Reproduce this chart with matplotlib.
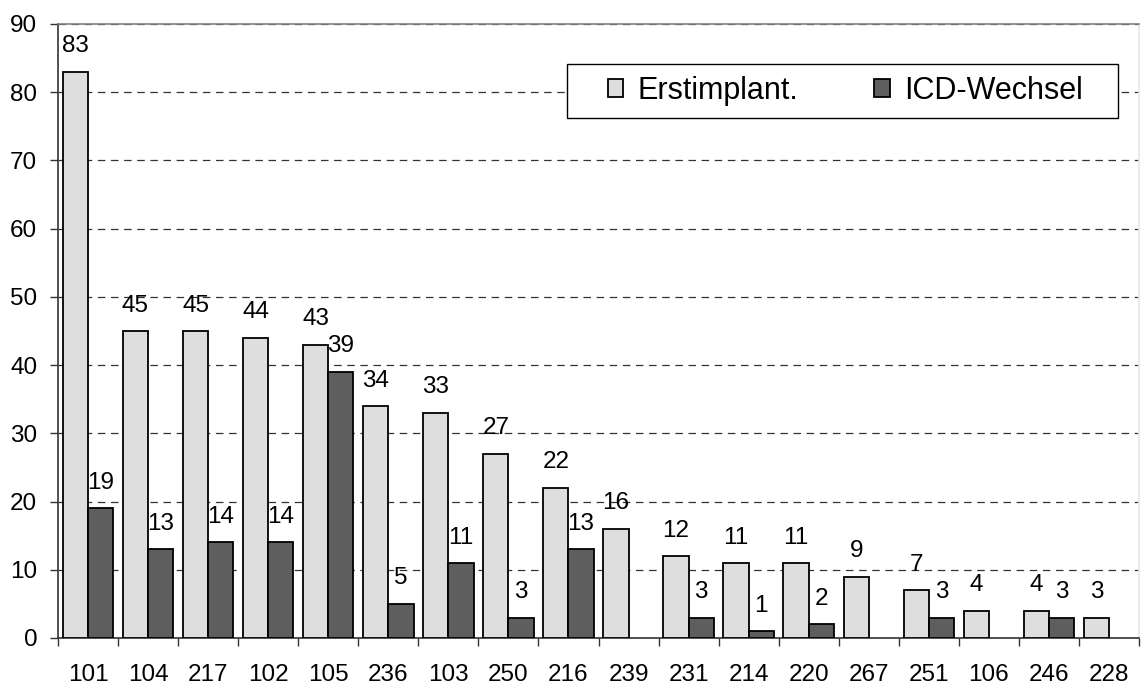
import matplotlib.pyplot as plt
from matplotlib.patches import Rectangle
import numpy as np

plt.rcParams['font.family'] = ['Liberation Sans', 'DejaVu Sans']

categories = ['101', '104', '217', '102', '105', '236', '103', '250', '216',
              '239', '231', '214', '220', '267', '251', '106', '246', '228']
erstimplant = [83, 45, 45, 44, 43, 34, 33, 27, 22, 16, 12, 11, 11, 9, 7, 4, 4, 3]
wechsel = [19, 13, 14, 14, 39, 5, 11, 3, 13, None, 3, 1, 2, None, 3, None, 3, None]

wechsel_arr = np.array([np.nan if v is None else v for v in wechsel], dtype=float)
x = np.arange(len(categories))
w = 0.42

fig = plt.figure(figsize=(11.41, 6.89), dpi=100)
ax = fig.add_axes([58 / 1141, 1 - 638 / 689, 1081 / 1141, 614 / 689])

b1 = ax.bar(x - w, erstimplant, w, align='edge', color='#dedede',
            edgecolor='black', linewidth=1.3, label='Erstimplant.', zorder=3)
b2 = ax.bar(x, wechsel_arr, w, align='edge', color='#5e5e5e',
            edgecolor='black', linewidth=1.3, label='ICD-Wechsel', zorder=3)

for xi, v in zip(x, erstimplant):
    ax.annotate(str(v), (xi - w / 2, v), xytext=(0, 14), textcoords='offset points',
                ha='center', va='baseline', fontsize=17.5)
for xi, v in zip(x, wechsel):
    if v is None:
        continue
    ax.annotate(str(v), (xi + w / 2, v), xytext=(0, 14), textcoords='offset points',
                ha='center', va='baseline', fontsize=17.5)

ax.set_xlim(-0.5, len(categories) - 0.5)
ax.set_ylim(0, 90)
ax.set_yticks(np.arange(0, 91, 10))
ax.yaxis.grid(True, linestyle=(0, (6, 4.5)), color='#333333', linewidth=0.9, zorder=0)

# boundary ticks without labels, category labels on minor ticks
ax.set_xticks(np.arange(-0.5, len(categories), 1))
ax.set_xticklabels([])
ax.set_xticks(x, minor=True)
ax.set_xticklabels(categories, minor=True)
ax.tick_params(axis='x', which='major', direction='out', length=6, width=1, color='#333333')
ax.tick_params(axis='x', which='minor', length=0, pad=19, labelsize=17.5)
ax.tick_params(axis='y', direction='out', length=6, width=1, color='#333333', pad=9,
               labelsize=17.5)

ax.spines['left'].set_color('#333333')
ax.spines['bottom'].set_color('#333333')
ax.spines['top'].set_color('#808080')
ax.spines['right'].set_color('#e6e6e6')
for s in ax.spines.values():
    s.set_linewidth(1.2)

# legend frame drawn separately so the padding can match the original
frame = Rectangle((0.4709, 0.8469), 0.9806 - 0.4709, 0.9349 - 0.8469,
                  transform=ax.transAxes, facecolor='white', edgecolor='black',
                  linewidth=1.0, zorder=4)
ax.add_patch(frame)
leg = ax.legend(loc='center left', bbox_to_anchor=(0.5088, 0.891), ncol=2,
                fontsize=22, frameon=False,
                handlelength=0.5, handleheight=0.5, handletextpad=0.46,
                columnspacing=2.5, borderpad=0, borderaxespad=0)
leg.set_zorder(5)

fig.savefig('out.png', dpi=100)
